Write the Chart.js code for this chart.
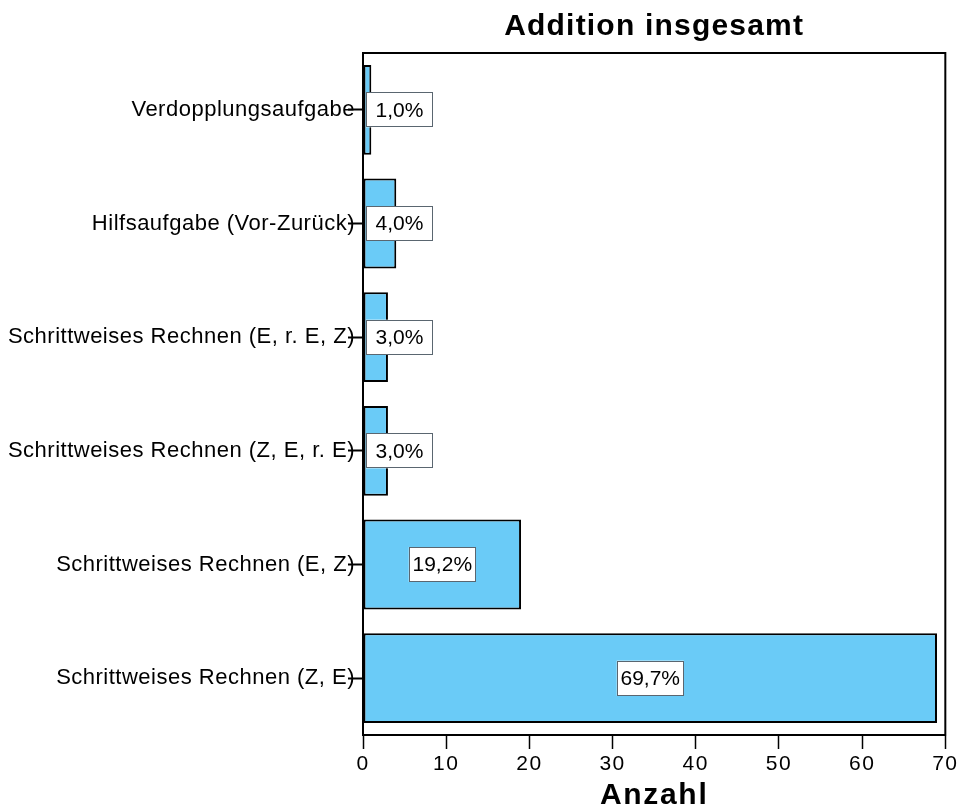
<!DOCTYPE html>
<html>
<head>
<meta charset="utf-8">
<title>Addition insgesamt</title>
<script src="https://cdn.jsdelivr.net/npm/chart.js@4"></script>
<style>
  html, body { margin: 0; padding: 0; background: #fff; }
  #wrap { width: 960px; height: 809px; position: relative; }
</style>
</head>
<body>
<div id="wrap"><canvas id="chart"></canvas></div>
<script>
// Strategies used for addition tasks and how often each occurred
const categories = [
  'Verdopplungsaufgabe',
  'Hilfsaufgabe (Vor-Zurück)',
  'Schrittweises Rechnen (E, r. E, Z)',
  'Schrittweises Rechnen (Z, E, r. E)',
  'Schrittweises Rechnen (E, Z)',
  'Schrittweises Rechnen (Z, E)'
];
const counts = [1, 4, 3, 3, 19, 69];
const xTicks = [0, 10, 20, 30, 40, 50, 60, 70];
const chartTitle = 'Addition insgesamt';
const xTitle = 'Anzahl';

// Share of each strategy, written with a decimal comma
const total = counts.reduce((a, b) => a + b, 0);
const percentLabels = counts.map(v => (v / total * 100).toFixed(1).replace('.', ',') + '%');

const FAMILY = '"Liberation Sans", Arial, Helvetica, sans-serif';

// Per-element letter spacing: wraps the text drawing routines of the axes and the title
const tracking = {
  id: 'tracking',
  afterUpdate(chart) {
    const wrap = (obj, name, sp) => {
      if (!obj || obj['_tracked_' + name]) return;
      const orig = obj[name];
      obj[name] = function (...args) {
        const c = this.ctx;
        const prev = c.letterSpacing;
        c.letterSpacing = sp;
        const r = orig.apply(this, args);
        c.letterSpacing = prev;
        return r;
      };
      obj['_tracked_' + name] = true;
    };
    wrap(chart.scales.y, 'drawLabels', '0.5px');
    wrap(chart.scales.x, 'drawLabels', '1.5px');
    wrap(chart.scales.x, 'drawTitle', '1.7px');
    wrap(chart.titleBlock, 'draw', '1.2px');
  }
};

// Closed frame around the plotting area
const frame = {
  id: 'frame',
  beforeDatasetsDraw(chart) {
    const { ctx, chartArea: a } = chart;
    ctx.save();
    ctx.strokeStyle = '#000';
    ctx.lineWidth = 2;
    ctx.strokeRect(a.left, a.top, a.right - a.left, a.bottom - a.top);
    ctx.restore();
  }
};

// Boxed percentage label inside every bar
const valueLabels = {
  id: 'valueLabels',
  afterDatasetsDraw(chart) {
    const { ctx, chartArea: a } = chart;
    const meta = chart.getDatasetMeta(0);
    const w = 67, h = 35;
    ctx.save();
    ctx.letterSpacing = '0px';
    ctx.font = '21px ' + FAMILY;
    ctx.textAlign = 'center';
    ctx.textBaseline = 'middle';
    meta.data.forEach((bar, i) => {
      let cx = (bar.base + bar.x) / 2;
      cx = Math.max(cx, a.left + 3 + w / 2);
      const cy = bar.y;
      ctx.fillStyle = '#fff';
      ctx.fillRect(cx - w / 2, cy - h / 2, w, h);
      ctx.strokeStyle = '#5a6670';
      ctx.lineWidth = 1;
      ctx.strokeRect(Math.round(cx - w / 2) + 0.5, Math.round(cy - h / 2) + 0.5, w - 1, h - 1);
      ctx.fillStyle = '#000';
      ctx.fillText(percentLabels[i], cx, cy + 1);
    });
    ctx.restore();
  }
};

new Chart(document.getElementById('chart'), {
  type: 'bar',
  data: {
    labels: categories,
    datasets: [{
      data: counts,
      backgroundColor: '#6acbf7',
      borderColor: '#000',
      borderWidth: 2,
      borderSkipped: false,
      barPercentage: 0.79,
      categoryPercentage: 1
    }]
  },
  options: {
    indexAxis: 'y',
    responsive: true,
    maintainAspectRatio: false,
    devicePixelRatio: 1,
    animation: false,
    layout: { padding: { left: 0, right: 14, top: 0, bottom: 0 } },
    plugins: {
      legend: { display: false },
      tooltip: { enabled: false },
      title: {
        display: true,
        text: chartTitle,
        color: '#000',
        fullSize: false,
        font: { family: FAMILY, size: 30, weight: 'bold', lineHeight: 1.2 },
        padding: { top: 9, bottom: 8 }
      }
    },
    scales: {
      x: {
        type: 'linear',
        min: 0,
        max: 70,
        afterBuildTicks(scale) { scale.ticks = xTicks.map(v => ({ value: v })); },
        afterFit(scale) { scale.height = 74; },
        grid: { drawOnChartArea: false, drawTicks: true, tickLength: 14, tickColor: '#000', tickWidth: 1.5 },
        border: { display: true, color: '#000', width: 2 },
        ticks: { color: '#000', font: { family: FAMILY, size: 21 }, padding: 3, maxRotation: 0, autoSkip: false },
        title: {
          display: true,
          text: xTitle,
          color: '#000',
          font: { family: FAMILY, size: 30, weight: 'bold', lineHeight: 0.8 },
          padding: { top: 0, bottom: 1 }
        }
      },
      y: {
        afterFit(scale) { scale.width = 363; },
        grid: { offset: false, drawOnChartArea: false, drawTicks: true, tickLength: 15, tickColor: '#000', tickWidth: 2 },
        border: { display: true, color: '#000', width: 2 },
        ticks: { color: '#000', font: { family: FAMILY, size: 22 }, padding: -7, autoSkip: false }
      }
    }
  },
  plugins: [tracking, frame, valueLabels]
});
</script>
</body>
</html>
